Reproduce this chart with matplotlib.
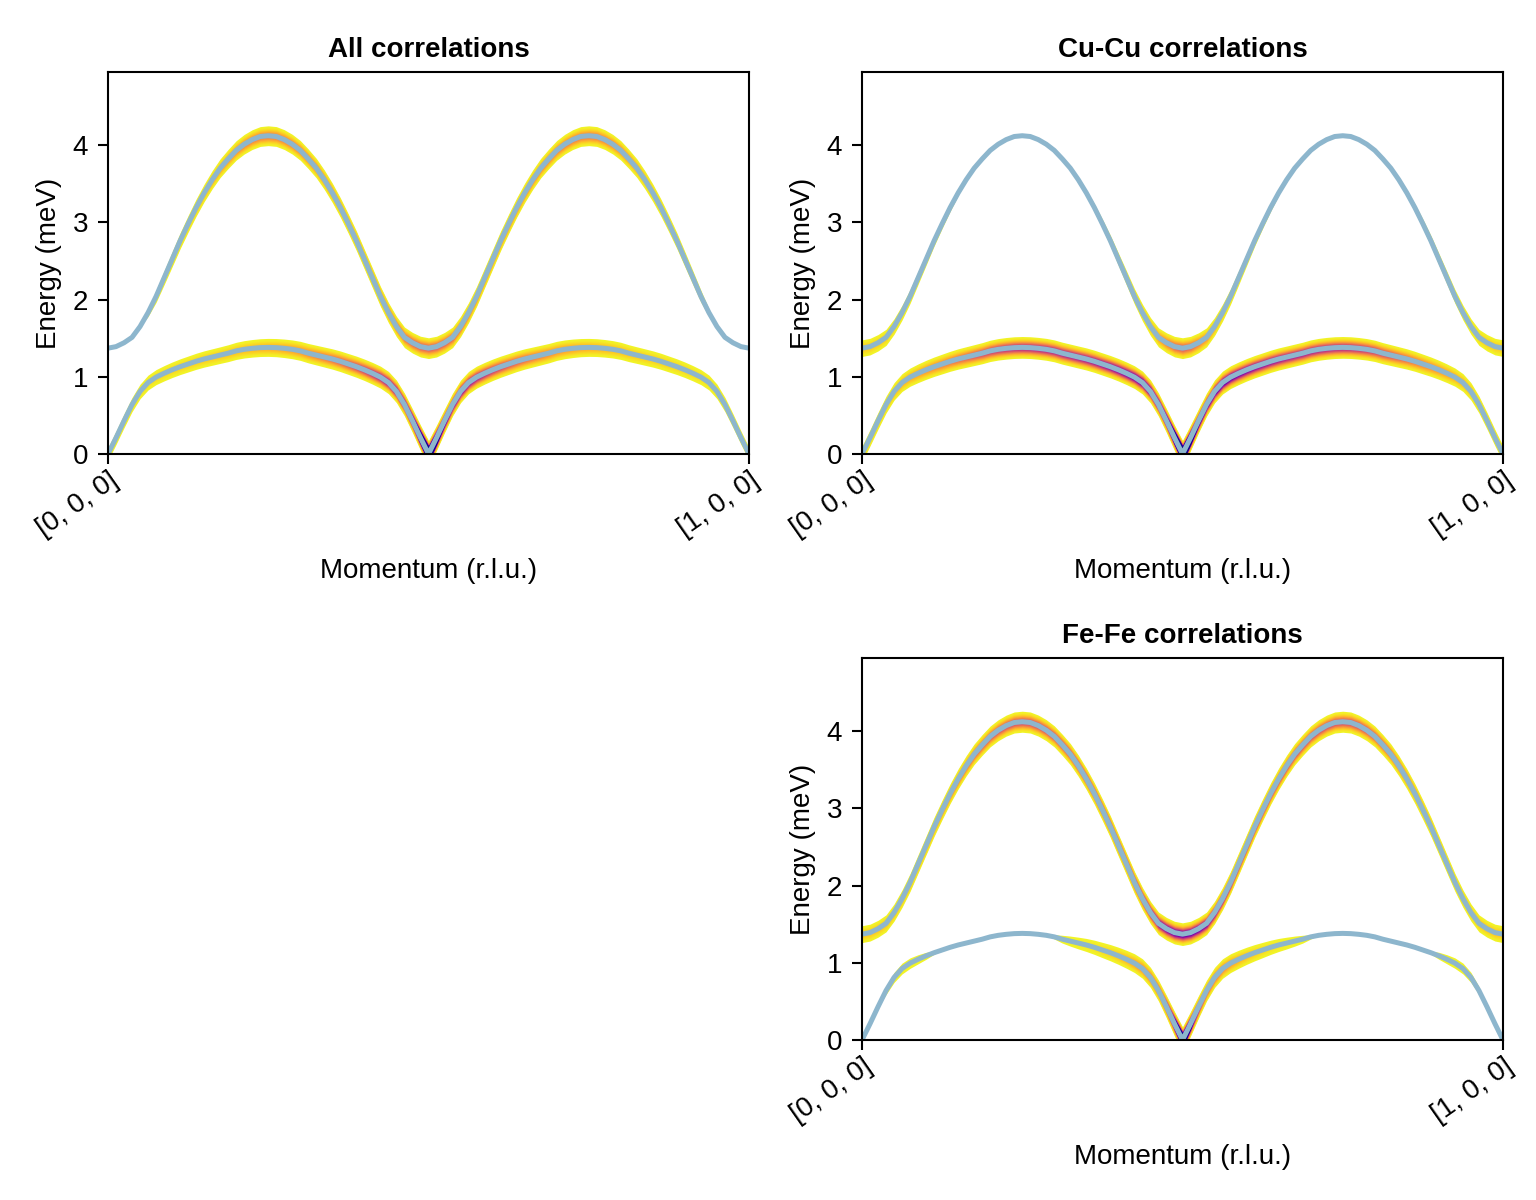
import numpy as np
import matplotlib.pyplot as plt
import matplotlib.transforms as mtransforms

plt.rcParams['font.family'] = ['Liberation Sans', 'DejaVu Sans']
plt.rcParams['font.size'] = 10

# Momentum path samples, [0,0,0] -> [1,0,0] in steps of 0.0125 r.l.u.
q = np.linspace(0.0, 1.0, 81)

# Dispersion (meV)
energy_upper = [1.37, 1.39, 1.44, 1.51, 1.65, 1.83, 2.04, 2.28, 2.52, 2.76, 2.98, 3.19, 3.38, 3.55,
                3.70, 3.82, 3.93, 4.01, 4.07, 4.11, 4.12,
                4.11, 4.07, 4.01, 3.93, 3.82, 3.70, 3.55, 3.38, 3.19, 2.98, 2.76, 2.52, 2.28,
                2.04, 1.83, 1.65, 1.51, 1.44, 1.39, 1.37,
                1.39, 1.44, 1.51, 1.65, 1.83, 2.04, 2.28, 2.52, 2.76, 2.98, 3.19, 3.38, 3.55,
                3.70, 3.82, 3.93, 4.01, 4.07, 4.11, 4.12,
                4.11, 4.07, 4.01, 3.93, 3.82, 3.70, 3.55, 3.38, 3.19, 2.98, 2.76, 2.52, 2.28,
                2.04, 1.83, 1.65, 1.51, 1.44, 1.39, 1.37]
energy_lower = [0.0, 0.21, 0.43, 0.64, 0.81, 0.925, 0.995, 1.045, 1.09, 1.13, 1.165, 1.2, 1.23,
                1.255, 1.28, 1.305, 1.335, 1.355, 1.368, 1.377, 1.38,
                1.377, 1.368, 1.355, 1.335, 1.305, 1.28, 1.255, 1.23, 1.2, 1.165, 1.13, 1.09,
                1.045, 0.995, 0.925, 0.81, 0.64, 0.43, 0.21, 0.0,
                0.21, 0.43, 0.64, 0.81, 0.925, 0.995, 1.045, 1.09, 1.13, 1.165, 1.2, 1.23,
                1.255, 1.28, 1.305, 1.335, 1.355, 1.368, 1.377, 1.38,
                1.377, 1.368, 1.355, 1.335, 1.305, 1.28, 1.255, 1.23, 1.2, 1.165, 1.13, 1.09,
                1.045, 0.995, 0.925, 0.81, 0.64, 0.43, 0.21, 0.0]

# Mode intensities (relative units) for each panel
all_upper = [0, 0, 0, 0, 0.008, 0.02, 0.04, 0.06, 0.08, 0.1, 0.12, 0.14, 0.16, 0.19, 0.22,
             0.25, 0.28, 0.3, 0.31, 0.32, 0.32, 0.32, 0.32, 0.315, 0.31, 0.3, 0.29, 0.285,
             0.28, 0.28, 0.28, 0.29, 0.3, 0.31, 0.33, 0.35, 0.38, 0.41, 0.43, 0.44, 0.44,
             0.44, 0.43, 0.41, 0.38, 0.35, 0.33, 0.31, 0.3, 0.29, 0.28, 0.28, 0.28, 0.285,
             0.29, 0.3, 0.31, 0.315, 0.32, 0.32, 0.32, 0.32, 0.31, 0.3, 0.28, 0.25, 0.22,
             0.19, 0.16, 0.14, 0.12, 0.1, 0.08, 0.06, 0.04, 0.02, 0.008, 0, 0, 0, 0]
all_lower = [0.05, 0.055, 0.06, 0.065, 0.07, 0.075, 0.08, 0.085, 0.09, 0.095, 0.1, 0.105, 0.11,
             0.115, 0.12, 0.13, 0.14, 0.15, 0.16, 0.17, 0.18, 0.19, 0.21, 0.23, 0.25, 0.28,
             0.31, 0.34, 0.38, 0.42, 0.46, 0.51, 0.56, 0.62, 0.68, 0.75, 0.83, 0.92, 1.3,
             2.5, 5.0,
             2.5, 1.3, 0.92, 0.83, 0.75, 0.68, 0.62, 0.56, 0.51, 0.46, 0.42, 0.38, 0.34,
             0.31, 0.28, 0.25, 0.23, 0.21, 0.19, 0.18, 0.17, 0.16, 0.15, 0.14, 0.13, 0.12,
             0.115, 0.11, 0.105, 0.1, 0.095, 0.09, 0.085, 0.08, 0.075, 0.07, 0.065, 0.06,
             0.055, 0.05]
cucu_upper = [0.12, 0.12, 0.115, 0.105, 0.09, 0.075, 0.06, 0.048, 0.038, 0.03, 0.024, 0.019,
              0.015, 0.012, 0.01, 0.008, 0.007, 0.006, 0.005, 0.005, 0.005, 0.005, 0.005,
              0.006, 0.007, 0.008, 0.01, 0.012, 0.015, 0.019, 0.024, 0.032, 0.045, 0.065,
              0.09, 0.13, 0.18, 0.25, 0.33, 0.41, 0.45,
              0.41, 0.33, 0.25, 0.18, 0.13, 0.09, 0.065, 0.045, 0.032, 0.024, 0.019, 0.015,
              0.012, 0.01, 0.008, 0.007, 0.006, 0.005, 0.005, 0.005, 0.005, 0.005, 0.006,
              0.007, 0.008, 0.01, 0.012, 0.015, 0.019, 0.024, 0.03, 0.038, 0.048, 0.06,
              0.075, 0.09, 0.105, 0.115, 0.12, 0.12]
cucu_lower = [0.1, 0.11, 0.12, 0.13, 0.15, 0.17, 0.19, 0.22, 0.25, 0.28, 0.31, 0.34, 0.38,
              0.42, 0.46, 0.5, 0.54, 0.57, 0.6, 0.62, 0.63, 0.64, 0.65, 0.66, 0.67, 0.68,
              0.69, 0.7, 0.72, 0.74, 0.76, 0.79, 0.82, 0.86, 0.9, 0.95, 1.0, 1.08, 1.4, 2.8,
              5.5,
              2.8, 1.4, 1.08, 1.0, 0.95, 0.9, 0.86, 0.82, 0.79, 0.76, 0.74, 0.72, 0.7, 0.69,
              0.68, 0.67, 0.66, 0.65, 0.64, 0.63, 0.62, 0.6, 0.57, 0.54, 0.5, 0.46, 0.42,
              0.38, 0.34, 0.31, 0.28, 0.25, 0.22, 0.19, 0.17, 0.15, 0.13, 0.12, 0.11, 0.1]
fefe_upper = [0.13, 0.13, 0.13, 0.135, 0.14, 0.15, 0.17, 0.19, 0.22, 0.25, 0.28, 0.31, 0.34,
              0.37, 0.4, 0.43, 0.45, 0.47, 0.48, 0.49, 0.49, 0.49, 0.49, 0.495, 0.5, 0.51,
              0.52, 0.535, 0.55, 0.57, 0.59, 0.62, 0.65, 0.68, 0.72, 0.76, 0.8, 0.84, 0.87,
              0.89, 0.9,
              0.89, 0.87, 0.84, 0.8, 0.76, 0.72, 0.68, 0.65, 0.62, 0.59, 0.57, 0.55, 0.535,
              0.52, 0.51, 0.5, 0.495, 0.49, 0.49, 0.49, 0.49, 0.48, 0.47, 0.45, 0.43, 0.4,
              0.37, 0.34, 0.31, 0.28, 0.25, 0.22, 0.19, 0.17, 0.15, 0.14, 0.135, 0.13, 0.13,
              0.13]
fefe_lower = [0, 0.005, 0.012, 0.02, 0.028, 0.032, 0.03, 0.024, 0.018, 0.013, 0.009, 0.006,
              0.004, 0.002, 0, 0, 0, 0, 0, 0, 0, 0.002, 0.005, 0.009, 0.014, 0.02, 0.028,
              0.038, 0.05, 0.065, 0.085, 0.11, 0.14, 0.18, 0.23, 0.29, 0.36, 0.45, 0.8, 1.8,
              4.0,
              1.8, 0.8, 0.45, 0.36, 0.29, 0.23, 0.18, 0.14, 0.11, 0.085, 0.065, 0.05, 0.038,
              0.028, 0.02, 0.014, 0.009, 0.005, 0.002, 0, 0, 0, 0, 0, 0, 0, 0.002, 0.004,
              0.006, 0.009, 0.013, 0.018, 0.024, 0.03, 0.032, 0.028, 0.02, 0.012, 0.005, 0]

titles = ['All correlations', 'Cu-Cu correlations', 'Fe-Fe correlations']
tick_labels = ['[0, 0, 0]', '[1, 0, 0]']

line_color = '#8db6cd'
cmap = plt.get_cmap('plasma_r')
sigma = 0.05       # Gaussian energy broadening (meV)
threshold = 0.012  # intensities below this stay white
levels = np.linspace(threshold, 1.0, 90)


def draw_band(ax, energy, weight):
    ee = np.asarray(energy)
    ww = np.asarray(weight, dtype=float)
    for level in levels:
        ratio = np.where(ww > level, ww / level, 1.0)
        hw = sigma * np.sqrt(2.0 * np.log(ratio))
        if not np.any(hw > 0):
            continue
        ax.fill_between(q, ee - hw, ee + hw, color=cmap(level), lw=0)


def style_axes(ax, title):
    ax.set_xlim(0, 1)
    ax.set_ylim(0, 4.945)
    ax.set_yticks([0, 1, 2, 3, 4])
    ax.set_xticks([0, 1], tick_labels)
    ax.tick_params(length=3.6, width=0.75)
    for s in ax.spines.values():
        s.set_linewidth(0.75)
    offset = mtransforms.ScaledTranslation(8 / 200, -4 / 200, ax.figure.dpi_scale_trans)
    for lab in ax.get_xticklabels():
        lab.set_rotation(35)
        lab.set_ha('right')
        lab.set_va('center')
        lab.set_rotation_mode('anchor')
        lab.set_transform(lab.get_transform() + offset)
    ax.set_xlabel('Momentum (r.l.u.)', labelpad=5.8)
    ax.set_ylabel('Energy (meV)')
    ax.set_title(title, fontweight='bold', fontsize=10, pad=5.5)


fig = plt.figure(figsize=(7.68, 6.0), dpi=200)
w, h = 641 / 1536, 382 / 1200
ax_all = fig.add_axes([108 / 1536, 1 - 454 / 1200, w, h])
ax_cu = fig.add_axes([862 / 1536, 1 - 454 / 1200, w, h])
ax_fe = fig.add_axes([862 / 1536, 1 - 1040 / 1200, w, h])

panels = [(ax_all, all_upper, all_lower),
          (ax_cu, cucu_upper, cucu_lower),
          (ax_fe, fefe_upper, fefe_lower)]

for (ax, up, lo), title in zip(panels, titles):
    draw_band(ax, energy_upper, up)
    draw_band(ax, energy_lower, lo)
    ax.plot(q, energy_upper, color=line_color, lw=1.8)
    ax.plot(q, energy_lower, color=line_color, lw=1.8)
    style_axes(ax, title)

fig.savefig('out.png', dpi=200)
